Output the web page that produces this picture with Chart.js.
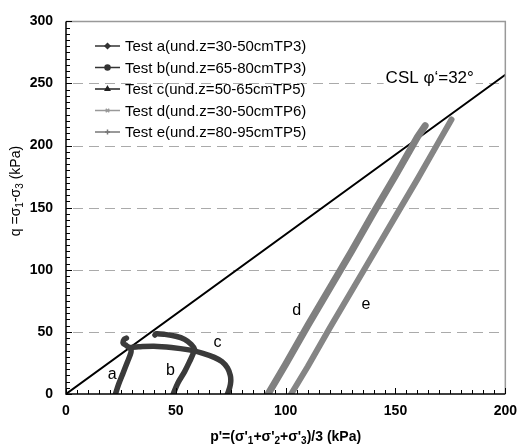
<!DOCTYPE html>
<html>
<head>
<meta charset="utf-8">
<script src="https://cdn.jsdelivr.net/npm/chart.js@4"></script>
<style>
  body { margin: 0; background: #fff; }
  #wrap { width: 526px; height: 447px; }
</style>
</head>
<body>
<div id="wrap"><canvas id="chart" width="526" height="447"></canvas></div>
<script>
// stress paths (p' and q in kPa)
const aP = [22.5, 24, 26, 28, 29.5, 29.5, 27.5, 26, 26.5, 27.5];
const aQ = [0, 8, 17, 26, 33, 36, 39, 41, 44, 45];
const bP = [48.8, 51, 54, 56.5, 58, 58.5, 57, 54, 50, 45, 41, 40.5];
const bQ = [0, 9, 18, 27, 33, 36, 40, 44, 46.5, 48, 48.5, 47.5];
const cP = [73.5, 74.5, 75, 74.8, 73.5, 71, 67.5, 62, 56, 48, 40, 33, 29];
const cQ = [0, 5, 10, 15, 21, 26, 29.5, 33, 35.5, 37.5, 38.5, 38, 37.5];
const dP = [92, 100, 110, 120, 130, 140, 150, 160, 163.5];
const dQ = [0, 24, 55, 85, 115, 146, 176, 207, 216];
const eP = [102.5, 110, 120, 130, 140, 150, 160, 170, 175.5];
const eQ = [0, 22, 53, 83, 113, 143, 173, 204, 221];
const cslP = [0, 200];
const cslQ = [0, 257];

const seriesLabels = [
    'Test a(und.z=30-50cmTP3)',
    'Test b(und.z=65-80cmTP3)',
    'Test c(und.z=50-65cmTP5)',
    'Test d(und.z=30-50cmTP6)',
    'Test e(und.z=80-95cmTP5)'
];
const xTicks = [0, 50, 100, 150, 200];
const yTicks = [0, 50, 100, 150, 200, 250, 300];
const gridLevels = [50, 100, 150, 200, 250];

const FONT = '"Liberation Sans", Arial, sans-serif';

function toPoints(xs, ys) {
    return xs.map((x, i) => ({ x: x, y: ys[i] }));
}

// curve letters, in data units
const curveNotes = [
    { text: 'a', x: 21, y: 16 },
    { text: 'b', x: 47.5, y: 18.5 },
    { text: 'c', x: 69, y: 41 },
    { text: 'd', x: 105, y: 67 },
    { text: 'e', x: 136.5, y: 72 }
];

const darkLine = '#3a3a3a';
const greyLine = '#808080';

const datasets = [
    { label: seriesLabels[0], data: toPoints(aP, aQ), borderColor: darkLine, borderWidth: 5.5, marker: 'rectRot', legendColor: '#333' },
    { label: seriesLabels[1], data: toPoints(bP, bQ), borderColor: darkLine, borderWidth: 5.5, marker: 'circle', legendColor: '#333' },
    { label: seriesLabels[2], data: toPoints(cP, cQ), borderColor: darkLine, borderWidth: 5.5, marker: 'triangle', legendColor: '#222' },
    { label: seriesLabels[3], data: toPoints(dP, dQ), borderColor: greyLine, borderWidth: 7, marker: 'crossRot', legendColor: '#999' },
    { label: seriesLabels[4], data: toPoints(eP, eQ), borderColor: '#858585', borderWidth: 6, marker: 'cross', legendColor: '#777' },
    { label: 'CSL', data: toPoints(cslP, cslQ), borderColor: '#000', borderWidth: 2, marker: null }
].map(ds => Object.assign({
    showLine: true,
    pointRadius: 0,
    fill: false,
    tension: ds.marker && ds.borderWidth === 5.5 ? 0.35 : 0,
    borderCapStyle: 'round',
    borderJoinStyle: 'round'
}, ds));

// dashed horizontal gridlines behind the data
const dashedGrid = {
    id: 'dashedGrid',
    beforeDatasetsDraw(chart) {
        const ctx = chart.ctx;
        const ys = chart.scales.y;
        const area = chart.chartArea;
        ctx.save();
        ctx.strokeStyle = '#aaa';
        ctx.lineWidth = 1;
        ctx.setLineDash([10, 6]);
        gridLevels.forEach(v => {
            const py = Math.round(ys.getPixelForValue(v)) + 0.5;
            ctx.beginPath();
            ctx.moveTo(area.left + 7, py);
            ctx.lineTo(area.right, py);
            ctx.stroke();
        });
        ctx.restore();
    }
};

// frame, inward ticks, legend, letters, titles with subscripts
const decorations = {
    id: 'decorations',
    afterDraw(chart) {
        const ctx = chart.ctx;
        const xs = chart.scales.x;
        const ys = chart.scales.y;
        const area = chart.chartArea;
        ctx.save();

        // grey top / right border
        ctx.strokeStyle = '#999';
        ctx.lineWidth = 1.5;
        ctx.beginPath();
        ctx.moveTo(area.left, area.top);
        ctx.lineTo(area.right, area.top);
        ctx.lineTo(area.right, area.bottom);
        ctx.stroke();

        // black left / bottom axes
        ctx.strokeStyle = '#000';
        ctx.lineWidth = 1.5;
        ctx.beginPath();
        ctx.moveTo(area.left, area.top);
        ctx.lineTo(area.left, area.bottom);
        ctx.lineTo(area.right, area.bottom);
        ctx.stroke();

        // inward ticks, minor every 5
        ctx.lineWidth = 1;
        ctx.beginPath();
        for (let v = 0; v <= 200; v += 5) {
            const px = Math.round(xs.getPixelForValue(v)) + 0.5;
            const len = v % 50 === 0 ? 6 : 4;
            ctx.moveTo(px, area.bottom);
            ctx.lineTo(px, area.bottom - len);
        }
        for (let v = 0; v <= 300; v += 5) {
            const py = Math.round(ys.getPixelForValue(v)) + 0.5;
            const len = v % 50 === 0 ? 6 : 4;
            ctx.moveTo(area.left, py);
            ctx.lineTo(area.left + len, py);
        }
        ctx.stroke();

        // legend inside the plot
        ctx.font = '15px ' + FONT;
        ctx.textBaseline = 'middle';
        ctx.textAlign = 'left';
        chart.data.datasets.slice(0, 5).forEach((ds, i) => {
            const y = 46 + i * 21.5;
            ctx.strokeStyle = ds.legendColor;
            ctx.fillStyle = ds.legendColor;
            ctx.lineWidth = 1.5;
            ctx.beginPath();
            ctx.moveTo(95, y);
            ctx.lineTo(120, y);
            ctx.stroke();
            Chart.helpers.drawPoint(ctx, { pointStyle: ds.marker, radius: 2.5, rotation: 0, borderWidth: 1 }, 107.5, y);
            ctx.fillStyle = '#000';
            ctx.fillText(ds.label, 125, y + 1);
        });

        // curve letters
        ctx.font = '16px ' + FONT;
        ctx.textAlign = 'center';
        ctx.fillStyle = '#000';
        curveNotes.forEach(n => {
            ctx.fillText(n.text, xs.getPixelForValue(n.x), ys.getPixelForValue(n.y));
        });

        // CSL caption, gridline broken behind it
        ctx.font = '17px ' + FONT;
        ctx.textAlign = 'left';
        const capX = xs.getPixelForValue(145.5);
        const capY = ys.getPixelForValue(254);
        const capW = ctx.measureText("CSL φ‘=32°").width;
        ctx.fillStyle = '#fff';
        ctx.fillRect(capX - 2, capY - 9, capW + 4, 18);
        ctx.fillStyle = '#000';
        ctx.fillText("CSL φ‘=32°", capX, capY);

        // axis titles with subscripts
        drawRich(ctx, [['p\'=(σ\'', 0], ['1', 1], ['+σ\'', 0], ['2', 1], ['+σ\'', 0], ['3', 1], [')/3 (kPa)', 0]],
            (area.left + area.right) / 2, 437, 0, 'bold ');
        drawRich(ctx, [['q =σ', 0], ['1', 1], ['-σ', 0], ['3', 1], [' (kPa)', 0]],
            16, 191, -Math.PI / 2, '');

        ctx.restore();
    }
};

function drawRich(ctx, parts, cx, cy, angle, weight) {
    const big = weight + '14px ' + FONT;
    const small = weight + '10px ' + FONT;
    let total = 0;
    parts.forEach(p => {
        ctx.font = p[1] ? small : big;
        total += ctx.measureText(p[0]).width;
    });
    ctx.save();
    ctx.translate(cx, cy);
    ctx.rotate(angle);
    ctx.fillStyle = '#000';
    ctx.textAlign = 'left';
    ctx.textBaseline = 'middle';
    let x = -total / 2;
    parts.forEach(p => {
        ctx.font = p[1] ? small : big;
        ctx.fillText(p[0], x, p[1] ? 4 : 0);
        x += ctx.measureText(p[0]).width;
    });
    ctx.restore();
}

new Chart(document.getElementById('chart'), {
    type: 'scatter',
    data: { datasets: datasets },
    options: {
        responsive: false,
        animation: false,
        layout: { padding: { top: 15, right: 13, left: 0, bottom: 0 } },
        plugins: {
            legend: { display: false },
            tooltip: { enabled: false }
        },
        scales: {
            x: {
                type: 'linear',
                min: 0,
                max: 200,
                afterFit(scale) { scale.height = 53; },
                afterBuildTicks(scale) { scale.ticks = xTicks.map(v => ({ value: v })); },
                grid: { display: false, drawTicks: false },
                border: { display: false },
                ticks: { color: '#000', padding: 9, font: { family: FONT, size: 14, weight: 'bold' } }
            },
            y: {
                type: 'linear',
                min: 0,
                max: 300,
                afterFit(scale) { scale.width = 66; },
                afterBuildTicks(scale) { scale.ticks = yTicks.map(v => ({ value: v })); },
                grid: { display: false, drawTicks: false },
                border: { display: false },
                ticks: { color: '#000', padding: 13, font: { family: FONT, size: 14, weight: 'bold' } }
            }
        }
    },
    plugins: [dashedGrid, decorations]
});
</script>
</body>
</html>
